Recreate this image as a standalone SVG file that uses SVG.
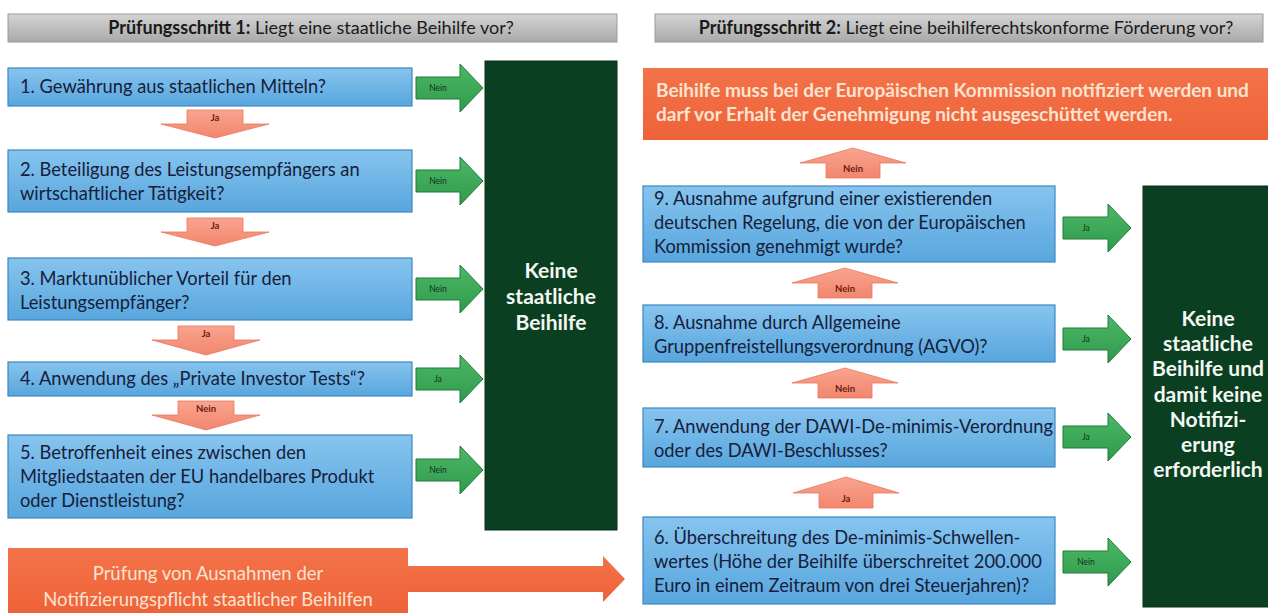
<svg xmlns="http://www.w3.org/2000/svg" width="1268" height="613" viewBox="0 0 1268 613">
<defs>
<linearGradient id="gHead" x1="0" y1="0" x2="0" y2="1"><stop offset="0" stop-color="#d4d4d4"/><stop offset="1" stop-color="#a9a9a9"/></linearGradient>
<linearGradient id="gBlue" x1="0" y1="0" x2="0" y2="1"><stop offset="0" stop-color="#86c4ee"/><stop offset="1" stop-color="#58a6de"/></linearGradient>
<linearGradient id="gGreen" x1="0" y1="0" x2="0" y2="1"><stop offset="0" stop-color="#4cb866"/><stop offset="1" stop-color="#2f9a4c"/></linearGradient>
<linearGradient id="gSalmon" x1="0" y1="0" x2="0" y2="1"><stop offset="0" stop-color="#f9a48f"/><stop offset="1" stop-color="#f2866d"/></linearGradient>
<linearGradient id="gOrange" x1="0" y1="0" x2="0" y2="1"><stop offset="0" stop-color="#f3734a"/><stop offset="1" stop-color="#ef6238"/></linearGradient>
</defs>
<style>
text{font-family:Lato,"Liberation Sans",sans-serif}
.head{fill:url(#gHead);stroke:#9a9a9a;stroke-width:1}
.ht{font-size:18px;fill:#1a1a1a;text-anchor:middle}
.box{fill:url(#gBlue);stroke:#3f87c0;stroke-width:1.2}
.bt{font-size:18.3px;fill:#17203a}
.dg{fill:#0b3f22;stroke:#083018;stroke-width:1}
.dgt{font-size:21px;font-weight:bold;fill:#f4f8f2;text-anchor:middle}
.ga{fill:url(#gGreen);stroke:#237a3a;stroke-width:1}
.gat{font-size:8.5px;fill:#14331c;text-anchor:middle}
.sa{fill:url(#gSalmon);stroke:#e8775d;stroke-width:0.8}
.sat{font-size:9.5px;font-weight:bold;fill:#6a1d10;text-anchor:middle}
.or{fill:url(#gOrange)}
.ort{fill:#fbe3d0}
</style>

<g id="header1">
<rect class="head" x="8" y="14" width="609" height="28"/>
<text class="ht" x="311" y="34"><tspan font-weight="bold">Prüfungsschritt 1:</tspan> Liegt eine staatliche Beihilfe vor?</text>
</g>
<g id="header2">
<rect class="head" x="655" y="14" width="608" height="28"/>
<text class="ht" x="966" y="34"><tspan font-weight="bold">Prüfungsschritt 2:</tspan> Liegt eine beihilferechtskonforme Förderung vor?</text>
</g>

<g id="step1">
<rect class="box" x="8" y="68" width="404" height="38"/>
<text class="bt" x="20" y="93">1. Gewährung aus staatlichen Mitteln?</text>
</g>
<g id="step2">
<rect class="box" x="8" y="150" width="404" height="62"/>
<text class="bt" x="20" y="176">2. Beteiligung des Leistungsempfängers an</text>
<text class="bt" x="20" y="200">wirtschaftlicher Tätigkeit?</text>
</g>
<g id="step3">
<rect class="box" x="8" y="258" width="404" height="62"/>
<text class="bt" x="20" y="285">3. Marktunüblicher Vorteil für den</text>
<text class="bt" x="20" y="309">Leistungsempfänger?</text>
</g>
<g id="step4">
<rect class="box" x="8" y="362" width="404" height="34"/>
<text class="bt" x="20" y="385">4. Anwendung des „Private Investor Tests“?</text>
</g>
<g id="step5">
<rect class="box" x="8" y="435" width="404" height="83"/>
<text class="bt" x="20" y="459">5. Betroffenheit eines zwischen den</text>
<text class="bt" x="20" y="483">Mitgliedstaaten der EU handelbares Produkt</text>
<text class="bt" x="20" y="507">oder Dienstleistung?</text>
</g>

<g id="result1">
<rect class="dg" x="485" y="61" width="132" height="469"/>
<text class="dgt" x="551" y="278">Keine</text>
<text class="dgt" x="551" y="304">staatliche</text>
<text class="dgt" x="551" y="330">Beihilfe</text>
</g>

<g id="exceptions">
<rect class="or" x="8" y="548" width="400" height="66"/>
<text class="ort" x="208" y="580" text-anchor="middle" font-size="18.5">Prüfung von Ausnahmen der</text>
<text class="ort" x="208" y="606" text-anchor="middle" font-size="18.5">Notifizierungspflicht staatlicher Beihilfen</text>
</g>

<g id="notify">
<rect class="or" x="643" y="68" width="626" height="72"/>
<text class="ort" x="656" y="97" font-weight="bold" font-size="19">Beihilfe muss bei der Europäischen Kommission notifiziert werden und</text>
<text class="ort" x="656" y="121" font-weight="bold" font-size="19">darf vor Erhalt der Genehmigung nicht ausgeschüttet werden.</text>
</g>

<g id="step9">
<rect class="box" x="643" y="186" width="412" height="76"/>
<text class="bt" x="654" y="205">9. Ausnahme aufgrund einer existierenden</text>
<text class="bt" x="654" y="229">deutschen Regelung, die von der Europäischen</text>
<text class="bt" x="654" y="253">Kommission genehmigt wurde?</text>
</g>
<g id="step8">
<rect class="box" x="643" y="305" width="412" height="57"/>
<text class="bt" x="654" y="329">8. Ausnahme durch Allgemeine</text>
<text class="bt" x="654" y="353">Gruppenfreistellungsverordnung (AGVO)?</text>
</g>
<g id="step7">
<rect class="box" x="643" y="408" width="412" height="59"/>
<text class="bt" x="654" y="433">7. Anwendung der DAWI-De-minimis-Verordnung</text>
<text class="bt" x="654" y="457">oder des DAWI-Beschlusses?</text>
</g>
<g id="step6">
<rect class="box" x="643" y="517" width="412" height="87"/>
<text class="bt" x="654" y="544">6. Überschreitung des De-minimis-Schwellen-</text>
<text class="bt" x="654" y="568">wertes (Höhe der Beihilfe überschreitet 200.000</text>
<text class="bt" x="654" y="592">Euro in einem Zeitraum von drei Steuerjahren)?</text>
</g>

<g id="result2">
<rect class="dg" x="1143" y="186" width="126" height="421"/>
<text class="dgt" x="1208" y="326">Keine</text>
<text class="dgt" x="1208" y="351">staatliche</text>
<text class="dgt" x="1208" y="376">Beihilfe und</text>
<text class="dgt" x="1208" y="402">damit keine</text>
<text class="dgt" x="1208" y="427">Notifizi-</text>
<text class="dgt" x="1208" y="452">erung</text>
<text class="dgt" x="1208" y="477">erforderlich</text>
</g>

<g id="connectors">
<g>
<path class="ga" d="M416,77 H460 V64 L483,88 L460,112 V99 H416 Z"/><text class="gat" x="438" y="91">Nein</text>
<path class="ga" d="M416,170 H460 V157 L483,181 L460,205 V192 H416 Z"/><text class="gat" x="438" y="184">Nein</text>
<path class="ga" d="M416,278 H460 V265 L483,289 L460,313 V300 H416 Z"/><text class="gat" x="438" y="292">Nein</text>
<path class="ga" d="M416,368 H460 V355 L483,379 L460,403 V390 H416 Z"/><text class="gat" x="438" y="382">Ja</text>
<path class="ga" d="M416,459 H460 V446 L483,470 L460,494 V481 H416 Z"/><text class="gat" x="438" y="473">Nein</text>
</g>
<g>
<path class="ga" d="M1063,217 H1108 V204 L1131,228 L1108,252 V239 H1063 Z"/><text class="gat" x="1086" y="231">Ja</text>
<path class="ga" d="M1063,328 H1108 V315 L1131,339 L1108,363 V350 H1063 Z"/><text class="gat" x="1086" y="342">Ja</text>
<path class="ga" d="M1063,426 H1108 V413 L1131,437 L1108,461 V448 H1063 Z"/><text class="gat" x="1086" y="440">Ja</text>
<path class="ga" d="M1063,551 H1108 V538 L1131,562 L1108,586 V573 H1063 Z"/><text class="gat" x="1086" y="565">Nein</text>
</g>
<g>
<path class="sa" d="M187,110 H243 V124 H269 L215,138 L161,124 H187 Z"/><text class="sat" x="215" y="121">Ja</text>
<path class="sa" d="M187,218 H243 V232 H269 L215,246 L161,232 H187 Z"/><text class="sat" x="215" y="229">Ja</text>
<path class="sa" d="M178,326 H234 V340 H260 L206,355 L152,340 H178 Z"/><text class="sat" x="206" y="337">Ja</text>
<path class="sa" d="M178,401 H234 V415 H260 L206,430 L152,415 H178 Z"/><text class="sat" x="206" y="412">Nein</text>
</g>
<g>
<path class="sa" d="M826,178 H880 V163 H906 L853,148 L800,163 H826 Z"/><text class="sat" x="853" y="172">Nein</text>
<path class="sa" d="M818,298 H872 V283 H898 L845,268 L792,283 H818 Z"/><text class="sat" x="845" y="292">Nein</text>
<path class="sa" d="M818,398 H872 V383 H898 L845,368 L792,383 H818 Z"/><text class="sat" x="845" y="392">Nein</text>
<path class="sa" d="M819,508 H873 V493 H899 L846,477 L793,493 H819 Z"/><text class="sat" x="846" y="502">Ja</text>
</g>
<path class="or" d="M407,566 H603 V556 L625,579 L603,602 V592 H407 Z"/>
</g>
</svg>
